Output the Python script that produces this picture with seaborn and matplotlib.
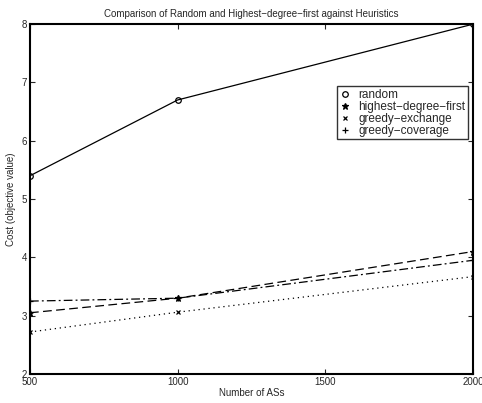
import matplotlib
matplotlib.use("Agg")
import matplotlib.pyplot as plt
from matplotlib.lines import Line2D
import seaborn as sns
import pandas as pd

sns.set_style("white")
plt.rcParams['font.family'] = ['Liberation Sans', 'DejaVu Sans']

num_as = [500, 1000, 2000]
random_cost = [5.4, 6.7, 8.0]
hdf_cost = [3.05, 3.3, 4.1]
exchange_cost = [2.72, 3.06, 3.67]
coverage_cost = [3.25, 3.3, 3.95]

series = [
    ("random", random_cost, "-", "o", 4.0),
    ("highest\u2212degree\u2212first", hdf_cost, (0, (7, 3.5)), "*", 4.5),
    ("greedy\u2212exchange", exchange_cost, (0, (1, 3)), "x", 3.5),
    ("greedy\u2212coverage", coverage_cost, (0, (7, 2.5, 1.5, 2.5)), "+", 4.0),
]

fig = plt.figure(figsize=(4.82, 4.03), dpi=100)
ax = fig.add_axes([0.0622, 0.072, 0.919, 0.868])

handles = []
for name, vals, ls, mk, ms in series:
    df = pd.DataFrame({"x": num_as, "y": vals})
    sns.lineplot(data=df, x="x", y="y", ax=ax, color="black", linewidth=0.9,
                 linestyle=ls, marker=mk, markersize=ms,
                 markerfacecolor="none" if mk == "o" else "black",
                 markeredgecolor="black", markeredgewidth=0.9)
    handles.append(Line2D([], [], linestyle="none", marker=mk, color="black",
                          markersize=ms, markerfacecolor="none" if mk == "o" else "black",
                          markeredgewidth=0.9, label=name))

ax.set_xlim(500, 2000)
ax.set_ylim(2, 8)
ax.set_xticks([500, 1000, 1500, 2000])
ax.set_yticks([2, 3, 4, 5, 6, 7, 8])
ax.tick_params(direction="in", length=3.5, width=0.8, labelsize=7, top=True, right=True,
               bottom=True, left=True, pad=2)
for s in ax.spines.values():
    s.set_color("black")
    s.set_linewidth(1.5)
ax.set_xlabel("Number of ASs", fontsize=7, labelpad=1)
ax.set_ylabel("Cost (objective value)", fontsize=7, labelpad=4)
ax.set_title("Comparison of Random and Highest\u2212degree\u2212first against Heuristics",
             fontsize=7, pad=5)

leg = ax.legend(handles=handles, loc="upper left", bbox_to_anchor=(0.693, 0.822),
                fontsize=8.5, frameon=True, fancybox=False, handlelength=1.0,
                handletextpad=0.6, labelspacing=0.0, borderpad=0.2, borderaxespad=0)
leg.get_frame().set_edgecolor("black")
leg.get_frame().set_linewidth(1.0)

fig.savefig("out.png", dpi=100)
